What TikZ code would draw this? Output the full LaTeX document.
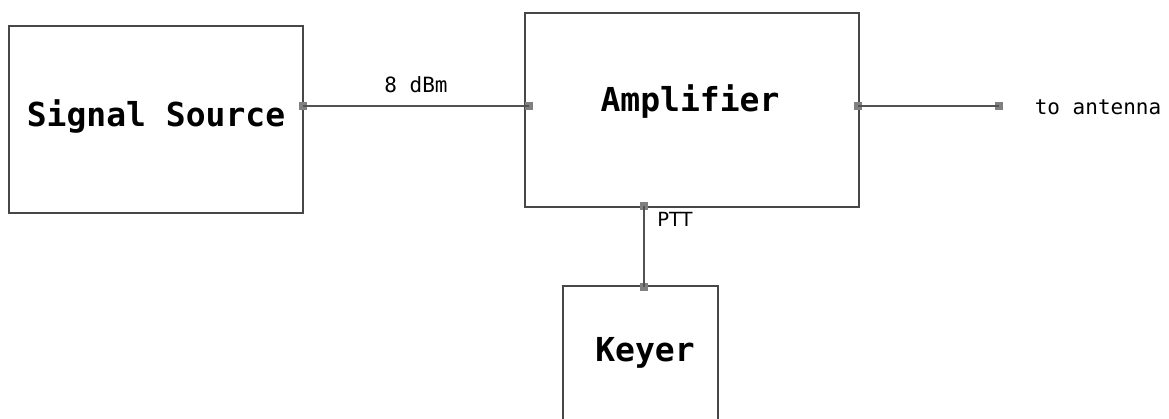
\documentclass[tikz,border=0pt]{standalone}
\usepackage{fontspec}
\setmainfont{DejaVu Sans}
\setmonofont{DejaVu Sans Mono}
\usetikzlibrary{positioning}

\begin{document}
\begin{tikzpicture}[x=1pt, y=-1pt, wire/.style={draw=black!68, line width=1.8pt}]
\tikzstyle{block}=[rectangle, draw=black!72, line width=2.2pt, inner sep=0pt]
\tikzstyle{pin}=[rectangle, fill=black!50, minimum size=7.5pt, inner sep=0pt]
\tikzstyle{big}=[anchor=base, inner sep=0pt, font=\ttfamily\bfseries\fontsize{33}{33}\selectfont]
\tikzstyle{small}=[anchor=base, inner sep=0pt, font=\ttfamily\fontsize{21}{21}\selectfont]
\clip (0,0) rectangle (1169,419);
\node[block, minimum width=294pt, minimum height=187pt] (src) at (156,119.5) {};
\node[block, minimum width=334pt, minimum height=194pt] (amp) at (692,110) {};
\node[block, minimum width=155pt, minimum height=160pt] (key) at (640.5,366) {};
\node[big] (srclbl) at (156,127) {Signal Source};
\node[big] (amplbl) at (690,112) {Amplifier};
\node[big] (keylbl) at (645,361) {Keyer};
\node[pin] (srcout) at (303,106) {};
\node[pin] (ampin) at (529,106) {};
\node[pin] (ampout) at (858,106) {};
\node[pin] (ant) at (999,106) {};
\node[pin] (ptt) at (644,206) {};
\node[pin] (keyin) at (644,287) {};
\foreach \i/\j in {srcout/ampin,ampout/ant,ptt/keyin}{\draw[wire] (\i.center) -- (\j.center);}
\node[small] (lvl) at (416,93) {8 dBm};
\node[small] (antlbl) at (1098,115) {to antenna};
\node[anchor=base, inner sep=0pt, font=\fontsize{19.5}{19.5}\selectfont] (pttlbl) at (675,227) {PTT};
\end{tikzpicture}
\end{document}
